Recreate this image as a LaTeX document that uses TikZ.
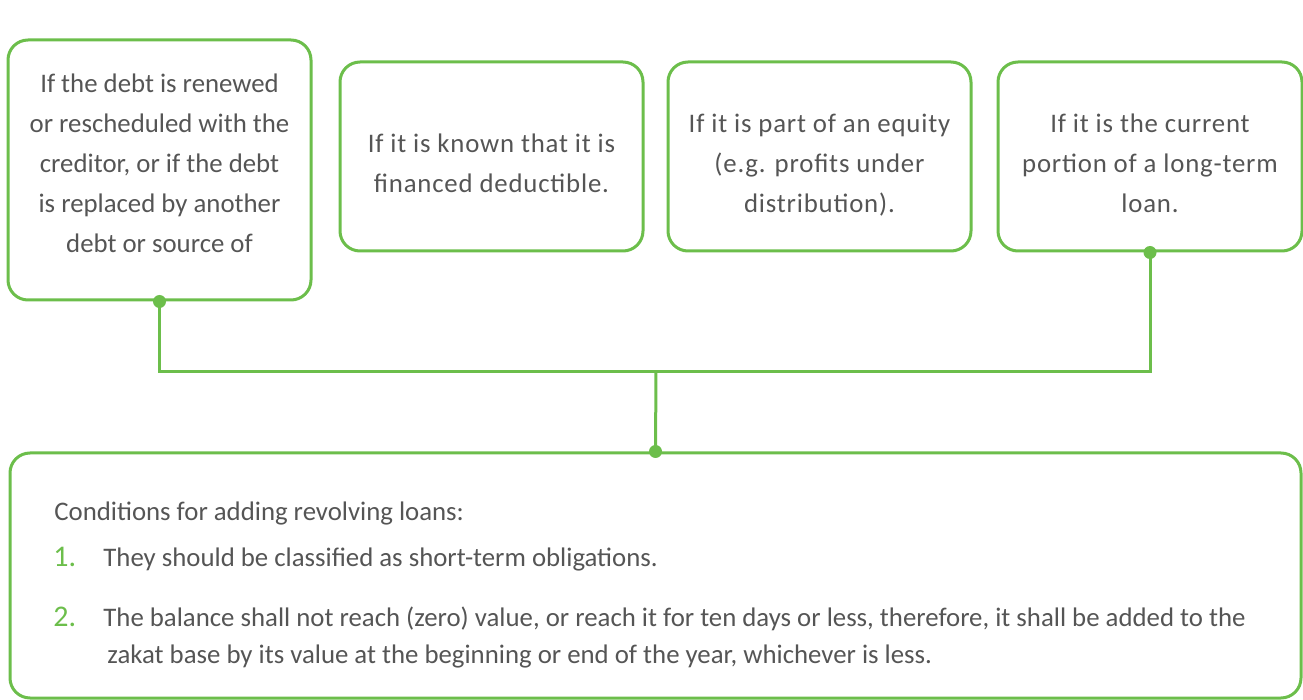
\documentclass[tikz,border=0pt]{standalone}
\usepackage{fontspec}
\setmainfont{Carlito}
\definecolor{leaf}{RGB}{108,190,75}
\definecolor{ink}{RGB}{85,85,85}

\begin{document}
\begin{tikzpicture}[x=0.5pt,y=-0.5pt,
    card/.style={draw=leaf,line width=1.5pt,rounded corners=10pt,inner sep=0pt},
    note/.style={align=center,text=ink,font=\fontsize{13.4}{20}\selectfont,inner sep=0pt},
    wide/.style={note,font=\fontsize{13.4}{20}\selectfont\addfontfeature{LetterSpace=3}},
    item/.style={anchor=base west,text=ink,font=\fontsize{13.4}{20}\selectfont,inner sep=0pt},
    num/.style={item,text=leaf,font=\fontsize{15}{20}\selectfont},
    link/.style={draw=leaf,line width=1.5pt},
    dot/.style={circle,fill=leaf,inner sep=0pt,minimum size=6.5pt}]
  \useasboundingbox (0,0) rectangle (1303,700);
  \begin{scope}
    \clip (0,0) rectangle (1303,700);
    % the four cases
    \node[card,minimum width=151.5pt,minimum height=130pt] (debt) at (159.5,170) {};
    \node[card,minimum width=151.5pt,minimum height=94.5pt] (known) at (491.5,156.5) {};
    \node[card,minimum width=151.5pt,minimum height=94.5pt] (equity) at (819.5,156.5) {};
    \node[card,minimum width=152pt,minimum height=94.5pt] (loan) at (1150,156.5) {};
    \node[note] (debt text) at (159.5,163)
      {If the debt is renewed\\or rescheduled with the\\creditor, or if the debt\\is replaced by another\\debt or source of};
    \node[wide] (known text) at (491.5,163.5)
      {If it is known that it is\\financed deductible.};
    \node[wide] (equity text) at (819.5,165)
      {If it is part of an equity\\(e.g. profits under\\distribution).};
    \node[wide] (loan text) at (1150,163.5)
      {If it is the current\\portion of a long-term\\loan.};
    % the conditions
    \node[card,minimum width=645.5pt,minimum height=122.5pt] (cond) at (655.5,575.5) {};
    \node[item] (head) at (54,521) {Conditions for adding revolving loans:};
    \node[num] (n1) at (53,567) {1.};
    \node[item] (t1) at (103,567) {They should be classified as short-term obligations.};
    \node[num] (n2) at (53,626) {2.};
    \node[item] (t2) at (103,626) {The balance shall not reach (zero) value, or reach it for ten days or less, therefore, it shall be added to the};
    \node[item] (t3) at (107,663) {zakat base by its value at the beginning or end of the year, whichever is less.};
    % connectors
    \coordinate (mid) at (656,372);
    \draw[link] (debt.south) |- (mid) -| (loan.south);
    \draw[link] (mid) -- (cond.north);
    \node[dot] at (debt.south) {};
    \node[dot] at (loan.south) {};
    \node[dot] at (cond.north) {};
  \end{scope}
\end{tikzpicture}
\end{document}
